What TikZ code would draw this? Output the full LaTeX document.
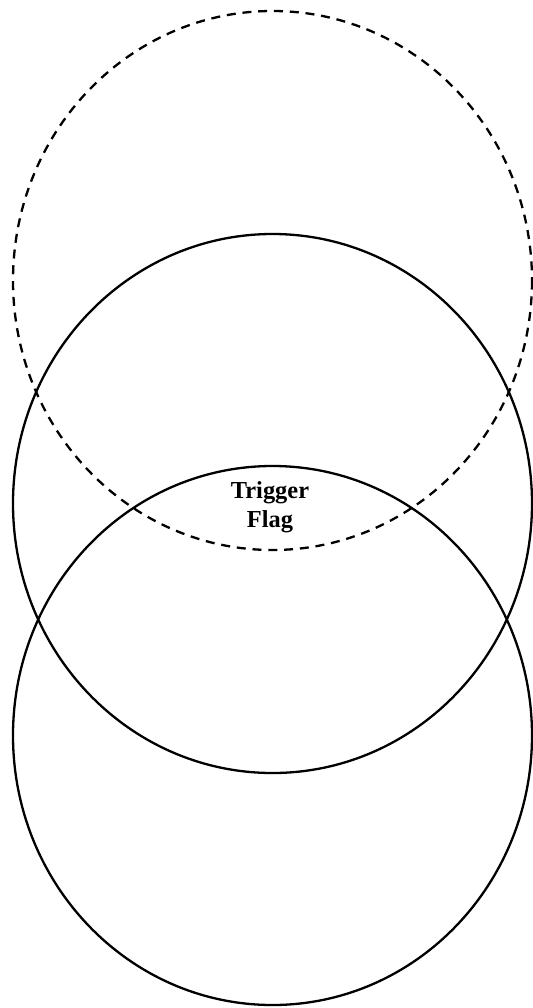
\documentclass[tikz,border=0pt]{standalone}
\usepackage{fontspec}
\setmainfont{Liberation Serif}
\usetikzlibrary{positioning}
\tikzset{
  ring/.style={line width=1.15pt},
  ghostring/.style={line width=1.15pt,dash pattern=on 4.5pt off 3.4pt},
  flaglabel/.style={font=\fontsize{12.2}{14.75}\selectfont\bfseries,align=center,inner sep=0pt}
}

\begin{document}
\begin{tikzpicture}[x=0.5pt,y=-0.5pt]
  \useasboundingbox (0,0) rectangle (533,1008);
  \coordinate (upper) at (272.5,280.5);
  \coordinate (middle) at (272.5,503.5);
  \coordinate (lower) at (272.5,735.5);
  \draw[ghostring] (upper) ellipse [x radius=259.5,y radius=269.5];
  \draw[ring] (middle) ellipse [x radius=259.5,y radius=269.5];
  \draw[ring] (lower) ellipse [x radius=259.5,y radius=269.5];
  \node[flaglabel] (flag) at (270,507) {Trigger\\Flag};
\end{tikzpicture}
\end{document}
